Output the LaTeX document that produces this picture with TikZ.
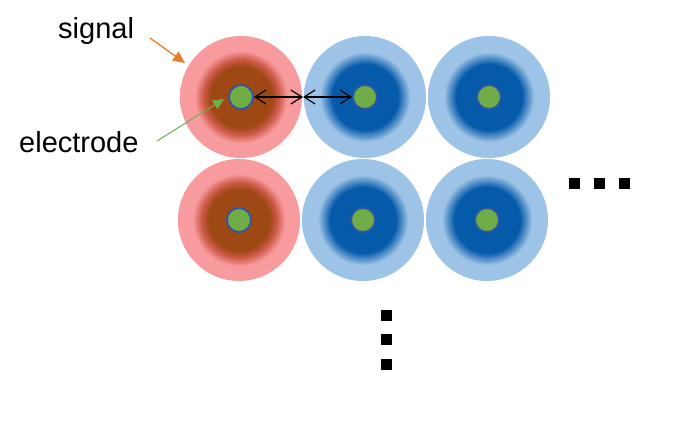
\documentclass[tikz,border=0pt]{standalone}
\usepackage{fontspec}
\setmainfont{Liberation Sans}
\usetikzlibrary{arrows.meta}

\definecolor{sigpink}{RGB}{248,155,158}
\definecolor{sigred}{RGB}{205,90,72}
\definecolor{sigbrown}{RGB}{158,72,20}
\definecolor{padlight}{RGB}{157,195,230}
\definecolor{paddark}{RGB}{6,90,170}
\definecolor{elecgreen}{RGB}{112,173,71}
\definecolor{elecrim}{RGB}{47,85,165}
\definecolor{sigorange}{RGB}{237,125,49}

\pgfdeclareradialshading{sigglow}{\pgfpoint{0bp}{0bp}}{color(0bp)=(sigbrown); color(12.5bp)=(sigbrown); color(15.5bp)=(sigred); color(19bp)=(sigpink); color(25bp)=(sigpink); color(50bp)=(sigpink)}
\pgfdeclareradialshading{padglow}{\pgfpoint{0bp}{0bp}}{color(0bp)=(paddark); color(13.5bp)=(paddark); color(18.5bp)=(padlight); color(25bp)=(padlight); color(50bp)=(padlight)}

\tikzset{
  cell/.style={circle, minimum size=122pt, inner sep=0pt},
  signal/.style={cell, shading=sigglow},
  quiet/.style={cell, shading=padglow},
  electrode/.style={circle, minimum size=24pt, inner sep=0pt, fill=elecgreen, draw=elecrim, line width=1.8pt},
  dot/.style={fill=black, minimum size=11pt, inner sep=0pt},
  tag/.style={font=\fontsize{29}{34}\selectfont, inner sep=0pt},
  gap/.style={line width=1.2pt, >={Straight Barb[length=11pt,width=14pt]}, <->}
}

\begin{document}
\begin{tikzpicture}[x=1pt,y=-1pt]
  \useasboundingbox (0,0) rectangle (690,420);

  \node[signal] (s1) at (241,97) {};
  \node[quiet] (q1) at (365,97) {};
  \node[quiet] (q2) at (489,97) {};
  \node[signal] (s2) at (239,220) {};
  \node[quiet] (q3) at (363,220) {};
  \node[quiet] (q4) at (487,220) {};
  \foreach \c in {s1,q1,q2,s2,q3,q4}
    \node[electrode] (e\c) at (\c) {};

  \coordinate (mid) at (303,97);
  \draw[gap] (es1.east) -- (mid);
  \draw[gap] (mid) -- (eq1.west);

  \node[tag, anchor=base west] (sigtext) at (58,38) {signal};
  \node[tag, anchor=base west] (eltext) at (19,152) {electrode};
  \coordinate (sigtail) at (150,38);
  \coordinate (sighead) at (185,63);
  \coordinate (eltail) at (157,141);
  \coordinate (elhead) at (224,99);
  \draw[sigorange, line width=1.3pt, -{Triangle[length=12pt,width=11pt]}] (sigtail) -- (sighead);
  \draw[elecgreen, line width=1pt, -{Triangle[length=11pt,width=10pt]}] (eltail) -- (elhead);

  \foreach \i in {0,1,2} {
    \node[dot] (h\i) at ({574.5+25*\i},183) {};
    \node[dot] (v\i) at (386.5,{315.5+24.25*\i}) {};
  }
\end{tikzpicture}
\end{document}
